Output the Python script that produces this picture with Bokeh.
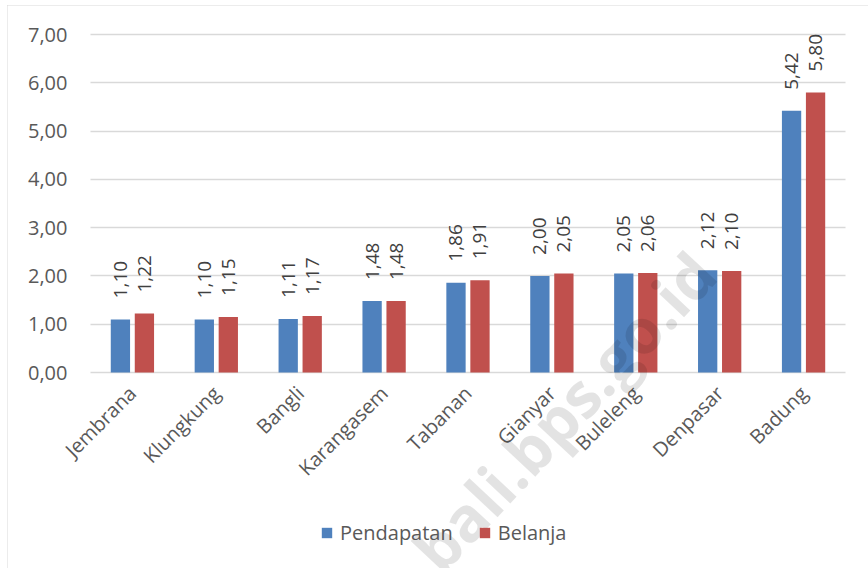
import math
from bokeh.plotting import figure
from bokeh.models import ColumnDataSource, Range1d, Legend, LegendItem, Label, CustomJSTickFormatter, FixedTicker
from bokeh.core.properties import value
from bokeh.embed import file_html
from bokeh.resources import INLINE

categories = ["Jembrana", "Klungkung", "Bangli", "Karangasem", "Tabanan",
              "Gianyar", "Buleleng", "Denpasar", "Badung"]
pendapatan = [1.10, 1.10, 1.11, 1.48, 1.86, 2.00, 2.05, 2.12, 5.42]
belanja = [1.22, 1.15, 1.17, 1.48, 1.91, 2.05, 2.06, 2.10, 5.80]
y_ticks = [0, 1, 2, 3, 4, 5, 6, 7]

FONT = "Open Sans"
BLUE = "#4F81BD"
RED = "#C0504D"
GREY_TXT = "#595959"


def fmt(v):
    return f"{v:.2f}".replace(".", ",")


n = len(categories)
centers = [i + 0.5 for i in range(n)]
off = 0.143
bw = 0.23

src = ColumnDataSource(dict(
    xp=[c - off for c in centers],
    xb=[c + off for c in centers],
    pend=pendapatan,
    bel=belanja,
    pend_lbl=[fmt(v) for v in pendapatan],
    bel_lbl=[fmt(v) for v in belanja],
))

# The frame covers the whole figure; axes are drawn at fixed locations
# (x = 0, y = 0) so that labels, legend and watermark are not clipped.
p = figure(x_range=Range1d(-0.989, n + 0.274), y_range=Range1d(-4.059, 7.601),
           width=861, height=563, output_backend="svg", toolbar_location=None,
           min_border_left=0, min_border_right=0, min_border_top=0, min_border_bottom=0)
p.styles = {"margin-left": "7px", "margin-top": "5px",
            "outline": "1px solid #D9D9D9", "outline-offset": "-1px"}
p.outline_line_color = None
p.background_fill_color = "white"
p.border_fill_color = "white"

r1 = p.vbar(x="xp", top="pend", width=bw, source=src, fill_color=BLUE, line_color=None)
r2 = p.vbar(x="xb", top="bel", width=bw, source=src, fill_color=RED, line_color=None)

p.text(x="xp", y="pend", text="pend_lbl", source=src,
       angle=math.pi / 2, text_align="left", text_baseline="middle", y_offset=-21,
       text_font=value(FONT), text_font_size="19px", text_color="#404040")
p.text(x="xb", y="bel", text="bel_lbl", source=src,
       angle=math.pi / 2, text_align="left", text_baseline="middle", y_offset=-21,
       text_font=value(FONT), text_font_size="19px", text_color="#404040")

# grid
p.xgrid.grid_line_color = None
p.ygrid.grid_line_color = "#D9D9D9"
p.ygrid.grid_line_width = 1.5
p.yaxis.ticker = FixedTicker(ticks=y_ticks)
grid_ok = True
try:
    p.ygrid[0].cross_bounds = (0, n)
except Exception:
    grid_ok = False
if not grid_ok:
    p.ygrid.grid_line_color = None
    p.segment(x0=[0] * len(y_ticks), x1=[n] * len(y_ticks), y0=y_ticks, y1=y_ticks,
              line_color="#D9D9D9", line_width=1.5, level="underlay")

# y axis (drawn at x = 0)
p.yaxis.fixed_location = 0
p.yaxis.axis_line_color = None
p.yaxis.major_tick_line_color = None
p.yaxis.minor_tick_line_color = None
p.yaxis.major_tick_out = 0
p.yaxis.major_tick_in = 0
p.yaxis.major_label_standoff = 23
p.yaxis.major_label_text_font = FONT
p.yaxis.major_label_text_font_size = "20px"
p.yaxis.major_label_text_color = GREY_TXT
p.yaxis.formatter = CustomJSTickFormatter(code="return tick.toFixed(2).replace('.', ',');")

# x axis (drawn at y = 0)
p.xaxis.fixed_location = 0
p.xaxis.ticker = FixedTicker(ticks=centers)
p.xaxis.formatter = CustomJSTickFormatter(args=dict(cats=categories),
                                          code="return cats[Math.floor(tick)];")
p.xaxis.axis_line_color = None
p.xaxis.major_tick_line_color = None
p.xaxis.minor_tick_line_color = None
p.xaxis.major_tick_out = 0
p.xaxis.major_tick_in = 0
p.xaxis.major_label_standoff = 17
p.xaxis.major_label_orientation = math.pi / 4
p.xaxis.major_label_text_font = FONT
p.xaxis.major_label_text_font_size = "20px"
p.xaxis.major_label_text_color = GREY_TXT

# watermark
wm = Label(x=5.64, y=-0.8, text="bali.bps.go.id", angle=0.82,
           text_align="center", text_baseline="middle",
           text_font=FONT, text_font_size="62px", text_font_style="bold",
           text_color="black", text_alpha=0.11, level="overlay")
p.add_layout(wm)

legend = Legend(items=[LegendItem(label="Pendapatan", renderers=[r1]),
                       LegendItem(label="Belanja", renderers=[r2])],
                orientation="horizontal", location=(313, 22),
                padding=0, margin=0, spacing=25, label_standoff=7,
                glyph_width=13, glyph_height=13, label_height=20,
                label_text_font=FONT, label_text_font_size="20px",
                label_text_color=GREY_TXT,
                border_line_color=None, background_fill_alpha=0)
p.add_layout(legend, "center")

open("out.html", "w").write(file_html(p, INLINE))
